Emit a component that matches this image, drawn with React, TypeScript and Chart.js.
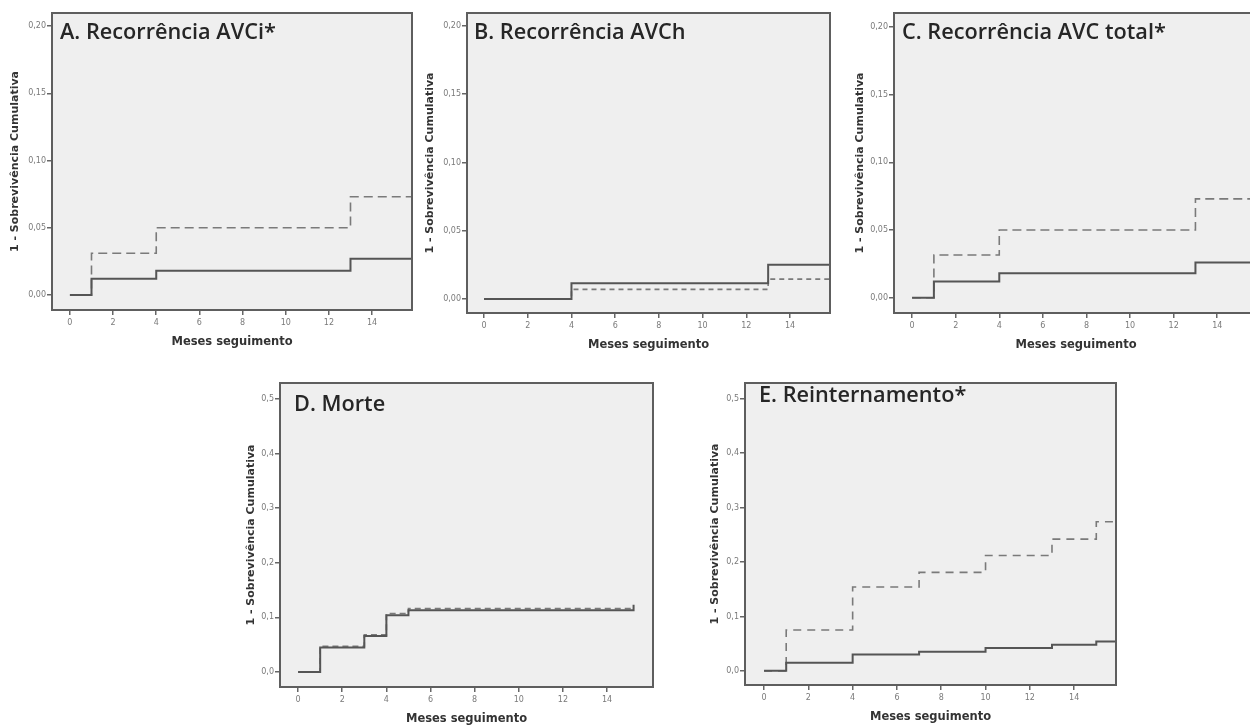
import React, { useEffect, useRef } from "react";
import { Chart, registerables } from "chart.js";

Chart.register(...registerables);

// ---------- data ----------
const monthTicks = [0, 2, 4, 6, 8, 10, 12, 14];
const recurrenceTicks = [0, 0.05, 0.1, 0.15, 0.2];
const outcomeTicks = [0, 0.1, 0.2, 0.3, 0.4, 0.5];

const yAxisLabel = "1 - Sobrevivência Cumulativa";
const xAxisLabel = "Meses seguimento";

const titleA = "A. Recorrência AVCi*";
const titleB = "B. Recorrência AVCh";
const titleC = "C. Recorrência AVC total*";
const titleD = "D. Morte";
const titleE = "E. Reinternamento*";

const avciTimes = [0, 1, 4, 13, 15.85];
const avciSolid = [0, 0.012, 0.018, 0.027, 0.027];
const avciDashed = [0, 0.031, 0.05, 0.073, 0.073];

const avchTimes = [0, 4, 13, 15.85];
const avchSolid = [0, 0.0115, 0.025, 0.025];
const avchDashed = [0, 0.007, 0.0145, 0.0145];

const avcTotalTimes = [0, 1, 4, 13, 16];
const avcTotalSolid = [0, 0.012, 0.018, 0.026, 0.026];
const avcTotalDashed = [0, 0.0315, 0.05, 0.073, 0.073];

const morteSolidTimes = [0, 1, 3, 4, 5, 15.2, 15.2];
const morteSolid = [0, 0.045, 0.066, 0.104, 0.113, 0.113, 0.123];
const morteDashedTimes = [0, 1, 3, 4, 5, 15.1];
const morteDashed = [0, 0.047, 0.068, 0.107, 0.116, 0.116];

const reintTimes = [0, 1, 4, 7, 10, 13, 15, 15.9];
const reintSolid = [0, 0.015, 0.03, 0.035, 0.042, 0.048, 0.054, 0.054];
const reintDashed = [0, 0.075, 0.154, 0.181, 0.212, 0.242, 0.274, 0.274];

// ---------- layout ----------
const Y_AXIS_W = 52;
const X_AXIS_H = 40;
const PAD_TOP = 13;
const PAD_RIGHT = 2;

type PanelSpec = {
  title: string;
  box: { l: number; t: number; r: number; b: number };
  xRange: [number, number];
  yRange: [number, number];
  yTicks: number[];
  decimals: number;
  yTitleOff: number;
  titleDx: number;
  titleBaseline: number;
  solidX: number[];
  solidY: number[];
  dashedX: number[];
  dashedY: number[];
  dash: number[];
};

const panels: PanelSpec[] = [
  {
    title: titleA,
    box: { l: 52, t: 13, r: 412, b: 310 },
    xRange: [-0.83, 15.85],
    yRange: [-0.0112, 0.2097],
    yTicks: recurrenceTicks,
    decimals: 2,
    yTitleOff: 37,
    titleDx: 8,
    titleBaseline: 26,
    solidX: avciTimes,
    solidY: avciSolid,
    dashedX: avciTimes,
    dashedY: avciDashed,
    dash: [9, 5],
  },
  {
    title: titleB,
    box: { l: 467, t: 13, r: 830, b: 313 },
    xRange: [-0.78, 15.83],
    yRange: [-0.0103, 0.2095],
    yTicks: recurrenceTicks,
    decimals: 2,
    yTitleOff: 37,
    titleDx: 7,
    titleBaseline: 26,
    solidX: avchTimes,
    solidY: avchSolid,
    dashedX: avchTimes,
    dashedY: avchDashed,
    dash: [5, 4],
  },
  {
    title: titleC,
    box: { l: 894, t: 13, r: 1258, b: 313 },
    xRange: [-0.83, 15.87],
    yRange: [-0.0113, 0.2103],
    yTicks: recurrenceTicks,
    decimals: 2,
    yTitleOff: 34,
    titleDx: 8,
    titleBaseline: 26,
    solidX: avcTotalTimes,
    solidY: avcTotalSolid,
    dashedX: avcTotalTimes,
    dashedY: avcTotalDashed,
    dash: [9, 5],
  },
  {
    title: titleD,
    box: { l: 280, t: 383, r: 653, b: 687 },
    xRange: [-0.82, 16.08],
    yRange: [-0.0275, 0.529],
    yTicks: outcomeTicks,
    decimals: 1,
    yTitleOff: 29,
    titleDx: 14,
    titleBaseline: 28,
    solidX: morteSolidTimes,
    solidY: morteSolid,
    dashedX: morteDashedTimes,
    dashedY: morteDashed,
    dash: [6, 4],
  },
  {
    title: titleE,
    box: { l: 745, t: 383, r: 1116, b: 685 },
    xRange: [-0.86, 15.89],
    yRange: [-0.026, 0.529],
    yTicks: outcomeTicks,
    decimals: 1,
    yTitleOff: 30,
    titleDx: 14,
    titleBaseline: 19,
    solidX: reintTimes,
    solidY: reintSolid,
    dashedX: reintTimes,
    dashedY: reintDashed,
    dash: [8, 6],
  },
];

const decorPlugin = {
  id: "panelDecor",
  beforeDraw(chart: any) {
    const { ctx, chartArea: a } = chart;
    ctx.save();
    ctx.fillStyle = "#efefef";
    ctx.fillRect(a.left, a.top, a.right - a.left, a.bottom - a.top);
    ctx.restore();
  },
  afterDatasetsDraw(chart: any, _args: any, opts: any) {
    const { ctx, chartArea: a } = chart;
    ctx.save();
    ctx.strokeStyle = "#5e5e5e";
    ctx.lineWidth = 2;
    ctx.strokeRect(a.left, a.top, a.right - a.left, a.bottom - a.top);
    ctx.fillStyle = "#262626";
    ctx.font = "600 21.7px 'Open Sans'";
    ctx.textBaseline = "alphabetic";
    ctx.textAlign = "left";
    ctx.fillText(opts.title, a.left + opts.dx, a.top + opts.baseline);
    ctx.restore();
  },
};

function Panel({ spec }: { spec: PanelSpec }) {
  const ref = useRef<HTMLCanvasElement | null>(null);
  const { box } = spec;
  const left = box.l - Y_AXIS_W;
  const top = box.t - PAD_TOP;
  const width = box.r + PAD_RIGHT - left;
  const height = box.b + X_AXIS_H - top;

  useEffect(() => {
    if (!ref.current) return;
    const yTitleLH = 11 * 1.2;
    const xTitleLH = 11.5 * 1.2;
    const chart = new Chart(ref.current, {
      type: "line",
      data: {
        datasets: [
          {
            label: "solid",
            data: spec.solidX.map((x, i) => ({ x, y: spec.solidY[i] })),
            borderColor: "#555555",
            borderWidth: 2,
            stepped: true,
            pointRadius: 0,
            fill: false,
          },
          {
            label: "dashed",
            data: spec.dashedX.map((x, i) => ({ x, y: spec.dashedY[i] })),
            borderColor: "#7a7a7a",
            borderWidth: 1.6,
            borderDash: spec.dash,
            stepped: true,
            pointRadius: 0,
            fill: false,
          },
        ],
      },
      options: {
        responsive: false,
        animation: false,
        devicePixelRatio: 1,
        layout: { padding: { top: PAD_TOP, right: PAD_RIGHT, left: 0, bottom: 0 } },
        plugins: {
          legend: { display: false },
          tooltip: { enabled: false },
          panelDecor: { title: spec.title, dx: spec.titleDx, baseline: spec.titleBaseline },
        } as any,
        scales: {
          x: {
            type: "linear",
            min: spec.xRange[0],
            max: spec.xRange[1],
            afterBuildTicks: (s: any) => {
              s.ticks = monthTicks.map((v) => ({ value: v }));
            },
            afterFit: (s: any) => {
              s.height = X_AXIS_H;
            },
            ticks: {
              autoSkip: false,
              maxRotation: 0,
              font: { family: "DejaVu Sans", size: 8 },
              color: "#7a7a7a",
              padding: 3,
              callback: (v: any) => String(v),
            },
            grid: { drawOnChartArea: false, drawTicks: true, tickLength: 5, color: "#666", lineWidth: 1.5 },
            border: { display: false },
            title: {
              display: true,
              text: xAxisLabel,
              font: { family: "DejaVu Sans", size: 11.5, weight: "bold" },
              color: "#333",
              padding: { top: 0, bottom: X_AXIS_H - 32 - xTitleLH / 2 },
            },
          },
          y: {
            type: "linear",
            min: spec.yRange[0],
            max: spec.yRange[1],
            afterBuildTicks: (s: any) => {
              s.ticks = spec.yTicks.map((v) => ({ value: v }));
            },
            afterFit: (s: any) => {
              s.width = Y_AXIS_W;
            },
            ticks: {
              autoSkip: false,
              font: { family: "DejaVu Sans", size: 8 },
              color: "#7a7a7a",
              padding: 1,
              callback: (v: any) => Number(v).toFixed(spec.decimals).replace(".", ","),
            },
            grid: { drawOnChartArea: false, drawTicks: true, tickLength: 5, color: "#666", lineWidth: 1.5 },
            border: { display: false },
            title: {
              display: true,
              text: yAxisLabel,
              font: { family: "DejaVu Sans", size: 11, weight: "bold" },
              color: "#333",
              padding: { top: Y_AXIS_W - spec.yTitleOff - yTitleLH / 2, bottom: 0 },
            },
          },
        },
      },
      plugins: [decorPlugin],
    } as any);
    return () => chart.destroy();
  }, [spec]);

  return (
    <canvas
      ref={ref}
      width={width}
      height={height}
      style={{ position: "absolute", left, top, width, height }}
    />
  );
}

export default function App() {
  return (
    <div
      style={{
        position: "absolute",
        left: 0,
        top: 0,
        width: 1250,
        height: 725,
        overflow: "hidden",
        background: "#ffffff",
      }}
    >
      {panels.map((p) => (
        <Panel key={p.title} spec={p} />
      ))}
    </div>
  );
}
